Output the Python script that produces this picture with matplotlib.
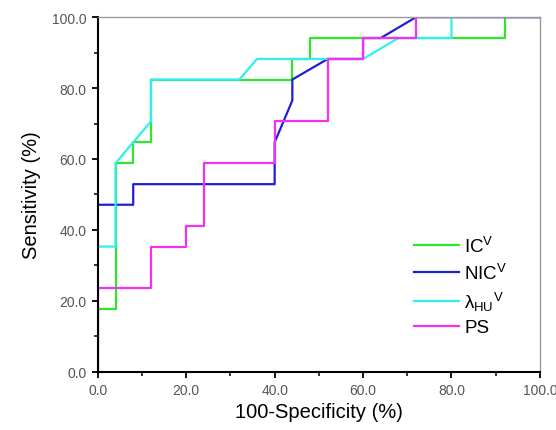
import matplotlib
matplotlib.use("Agg")
import matplotlib.pyplot as plt
from matplotlib.ticker import MultipleLocator, FormatStrFormatter

plt.rcParams['font.family'] = ['Liberation Sans', 'DejaVu Sans']
plt.rcParams['mathtext.fontset'] = 'custom'
plt.rcParams['mathtext.rm'] = 'Liberation Sans'
plt.rcParams['mathtext.it'] = 'Liberation Sans'

# ROC curves: 100-specificity (x) vs sensitivity (y), in %
ic_x = [0, 0, 4, 4, 8, 8, 12, 12, 44, 44, 48, 48, 92, 92, 100]
ic_y = [0, 17.6, 17.6, 58.8, 58.8, 64.7, 64.7, 82.4, 82.4, 88.2, 88.2, 94.1, 94.1, 100, 100]

nic_x = [0, 0, 8, 8, 40, 40, 44, 44, 52, 60, 60, 64, 72, 100]
nic_y = [0, 47.1, 47.1, 52.9, 52.9, 64.7, 76.5, 82.4, 88.2, 88.2, 94.1, 94.1, 100, 100]

lam_x = [0, 0, 4, 4, 12, 12, 32, 36, 60, 68, 80, 80, 100]
lam_y = [0, 35.3, 35.3, 58.8, 70.6, 82.4, 82.4, 88.2, 88.2, 94.1, 94.1, 100, 100]

ps_x = [0, 0, 12, 12, 20, 20, 24, 24, 40, 40, 52, 52, 60, 60, 72, 72, 100]
ps_y = [0, 23.5, 23.5, 35.3, 35.3, 41.2, 41.2, 58.8, 58.8, 70.6, 70.6, 88.2, 88.2, 94.1, 94.1, 100, 100]

labels = [r'IC$^{\rm V}$', r'NIC$^{\rm V}$', r'$\lambda_{\rm HU}$$^{\rm V}$', 'PS']
colors = ['#2ee62e', '#1f1fd6', '#2ef0f0', '#f52ef5']

fig = plt.figure(figsize=(5.56, 4.31), dpi=100)
ax = fig.add_axes([0.176, 0.135, 0.795, 0.823])

for xs, ys, lab, c in zip([ic_x, nic_x, lam_x, ps_x], [ic_y, nic_y, lam_y, ps_y], labels, colors):
    ax.plot(xs, ys, color=c, linewidth=1.6, label=lab)

ax.set_xlim(0, 100)
ax.set_ylim(0, 100)
ax.xaxis.set_major_locator(MultipleLocator(20))
ax.xaxis.set_minor_locator(MultipleLocator(10))
ax.yaxis.set_major_locator(MultipleLocator(20))
ax.yaxis.set_minor_locator(MultipleLocator(10))
ax.xaxis.set_major_formatter(FormatStrFormatter('%.1f'))
ax.yaxis.set_major_formatter(FormatStrFormatter('%.1f'))
ax.tick_params(which='major', direction='out', length=4.5, width=1.3, labelsize=10, labelcolor='#555555')
ax.tick_params(which='minor', direction='out', length=3, width=1.1)

for s in ['top', 'right']:
    ax.spines[s].set_color('#999999')
    ax.spines[s].set_linewidth(1.0)
for s in ['left', 'bottom']:
    ax.spines[s].set_color('black')
    ax.spines[s].set_linewidth(1.5)

ax.set_xlabel('100-Specificity (%)', fontsize=14.5, labelpad=4)
ax.set_ylabel('Sensitivity (%)', fontsize=14.5, labelpad=8)

ax.legend(loc='upper left', bbox_to_anchor=(0.695, 0.41), frameon=False, fontsize=13.5,
          borderpad=0, handlelength=2.4, handletextpad=0.25, labelspacing=0.36)

fig.savefig('out.png', dpi=100)
